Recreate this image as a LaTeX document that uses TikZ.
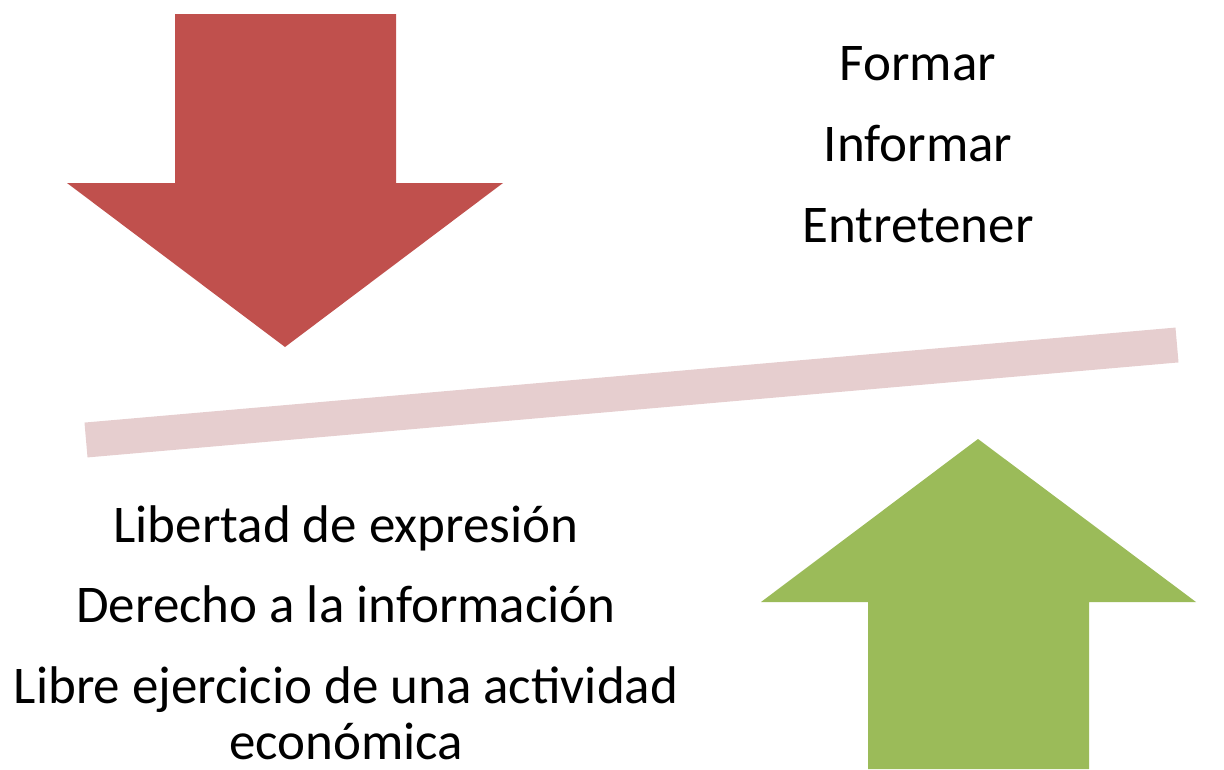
\documentclass[tikz,border=0pt]{standalone}
\usepackage{fontspec}
\setmainfont{Carlito}
\usepackage{xcolor}
\usepackage{tikz}
\usetikzlibrary{positioning}

\definecolor{arrowred}{HTML}{C0504D}
\definecolor{arrowgreen}{HTML}{9BBB59}
\definecolor{barpink}{HTML}{E6CECF}

\begin{document}
\begin{tikzpicture}[
          x=1pt,y=-1pt,
          bigarrow/.style={fill=#1,draw=none},
          mytext/.style={anchor=base,inner sep=0pt,align=center,
                         font=\fontsize{53}{57}\selectfont}
          ]
          \useasboundingbox (0,0) rectangle (1224,769);

          % red arrow pointing down
          \fill[bigarrow=arrowred] (175,14) -- (396,14) -- (396,183) -- (503,183)
              -- (285,347) -- (67,183) -- (175,183) -- cycle;

          % green arrow pointing up
          \fill[bigarrow=arrowgreen] (978,439) -- (1196,602) -- (1089,602) -- (1089,769)
              -- (868,769) -- (868,602) -- (761,602) -- cycle;

          % tilted bar
          \coordinate (barL) at (86,440);
          \coordinate (barR) at (1177,345);
          \draw[barpink,line width=35pt] (barL) -- (barR);

          \node[mytext] (formar) at (918,80) {Formar};
          \node[mytext] (informar) at (918,161) {Informar};
          \node[mytext] (entretener) at (918,242) {Entretener};

          \node[mytext] (libertad) at (346,542) {Libertad de expresión};
          \node[mytext] (derecho) at (346,622) {Derecho a la información};
          \node[mytext] (libre) at (346,703) {Libre ejercicio de una actividad};
          \node[mytext] (economica) at (346,759) {económica};
\end{tikzpicture}
\end{document}
